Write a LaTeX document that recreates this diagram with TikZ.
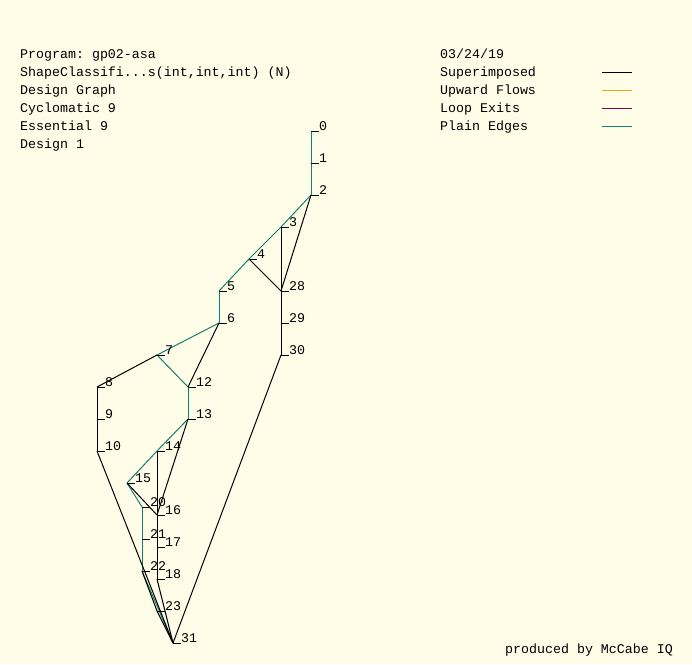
\documentclass[tikz,border=0pt]{standalone}
\usepackage{fontspec}
\setmonofont{Liberation Mono}
\definecolor{bgc}{RGB}{255,252,232}
\definecolor{plain}{RGB}{20,128,112}
\definecolor{upflow}{RGB}{230,170,20}
\definecolor{loopx}{RGB}{128,0,96}
\tikzset{
  txt/.style={anchor=base west, inner sep=0pt, font=\ttfamily\fontsize{13.3}{18}\selectfont},
  lab/.style={anchor=base west, inner sep=0pt, font=\ttfamily\fontsize{13.3}{18}\selectfont},
  vtx/.style={inner sep=0pt, minimum size=0pt},
  tick/.style={draw=black, line width=1pt},
  pe/.style={draw=plain, line width=1pt},
  se/.style={draw=black, line width=1pt},
}
\begin{document}
\begin{tikzpicture}[x=1pt,y=-1pt]
\fill[bgc] (0,0) rectangle (692,664);
\useasboundingbox (0,0) rectangle (692,664);
% header text
\node[txt] (t1) at (20,58) {Program: gp02-asa};
\node[txt] (t2) at (20,76) {ShapeClassifi...s(int,int,int) (N)};
\node[txt] (t3) at (20,94) {Design Graph};
\node[txt] (t4) at (20,112) {Cyclomatic 9};
\node[txt] (t5) at (20,130) {Essential 9};
\node[txt] (t6) at (20,148) {Design 1};
\node[txt] (d1) at (440,58) {03/24/19};
\node[txt] (l1) at (440,76) {Superimposed};
\node[txt] (l2) at (440,94) {Upward Flows};
\node[txt] (l3) at (440,112) {Loop Exits};
\node[txt] (l4) at (440,130) {Plain Edges};
\coordinate (k1a) at (602,72); \coordinate (k1b) at (632,72);
\coordinate (k2a) at (602,90); \coordinate (k2b) at (632,90);
\coordinate (k3a) at (602,108); \coordinate (k3b) at (632,108);
\coordinate (k4a) at (602,126); \coordinate (k4b) at (632,126);
\draw[se] (k1a) -- (k1b);
\draw[draw=upflow, line width=1pt] (k2a) -- (k2b);
\draw[draw=loopx, line width=1pt] (k3a) -- (k3b);
\draw[pe] (k4a) -- (k4b);
\node[txt] (foot) at (505,653) {produced by McCabe IQ};
% vertices
\foreach \n/\x/\y in {0/311/131,1/311/163,2/311/195,3/281/227,4/249/259,5/219/291,28/281/291,6/219/323,29/281/323,7/157/355,30/281/355,8/97/387,12/188/387,9/97/419,13/188/419,10/97/451,14/157/451,15/127/483,20/142/507,16/157/515,21/142/539,17/157/547,22/142/571,18/157/579,23/157/611,31/173/643}
  {\node[vtx] (n\n) at (\x,\y) {};}
% plain edges
\foreach \a/\b in {0/1,1/2,2/3,3/4,4/5,5/6,6/7,7/12,12/13,13/14,14/15,15/20,20/21,21/22,22/31}
  {\draw[pe] (n\a.center) -- (n\b.center);}
% superimposed edges
\foreach \a/\b in {2/28,3/28,4/28,28/29,29/30,30/31,6/12,7/8,8/9,9/10,10/31,13/16,14/16,15/16,16/17,17/18,18/31,22/23,23/31}
  {\draw[se] (n\a.center) -- (n\b.center);}
% ticks and labels
\foreach \n in {0,1,2,3,4,5,28,6,29,7,30,8,12,9,13,10,14,15,20,16,21,17,22,18,23,31}
  {\draw[tick] (n\n.center) -- ++(8,0);
   \node[lab] at ([xshift=8pt,yshift=1pt]n\n.center) {\n};}
\end{tikzpicture}
\end{document}
